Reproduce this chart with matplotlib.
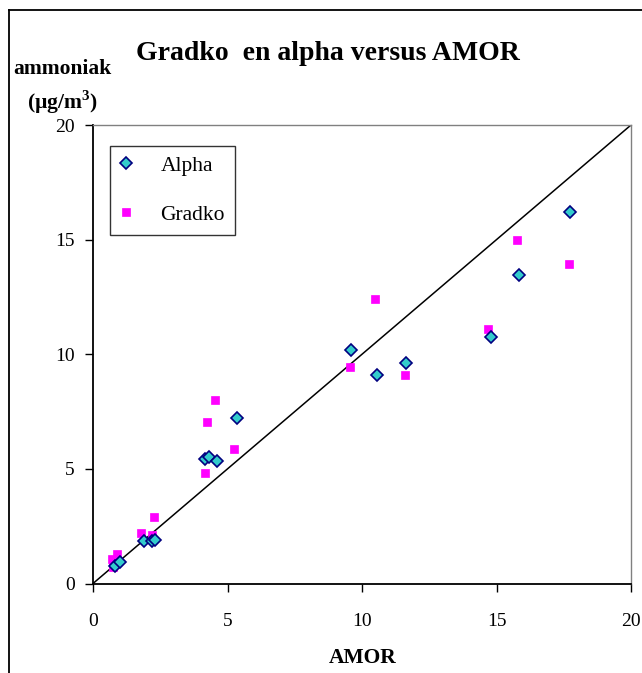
import matplotlib
matplotlib.use("Agg")
import matplotlib.pyplot as plt
from matplotlib.lines import Line2D

alpha_x = [0.8, 1.0, 1.9, 2.2, 2.3, 4.15, 4.3, 4.6, 5.35, 9.6, 10.55, 11.65, 14.8, 15.85, 17.75]
alpha_y = [0.75, 0.95, 1.85, 1.85, 1.9, 5.45, 5.5, 5.35, 7.2, 10.2, 9.1, 9.6, 10.75, 13.45, 16.2]

gradko_x = [0.75, 0.7, 0.9, 1.8, 2.2, 2.25, 4.15, 4.25, 4.55, 5.25, 9.55, 10.5, 11.6, 14.7, 15.75, 17.7]
gradko_y = [0.7, 1.05, 1.3, 2.2, 2.1, 2.9, 4.8, 7.05, 8.0, 5.85, 9.45, 12.4, 9.1, 11.1, 15.0, 13.95]

ticks = [0, 5, 10, 15, 20]

plt.rcParams['font.family'] = ['Liberation Serif', 'DejaVu Serif']
plt.rcParams['mathtext.fontset'] = 'custom'
plt.rcParams['mathtext.rm'] = 'Liberation Serif:bold'
plt.rcParams['mathtext.bf'] = 'Liberation Serif:bold'

W, H = 642, 673
fig = plt.figure(figsize=(W / 100, H / 100), dpi=100)
ax = fig.add_axes([93 / W, 1 - 583.5 / H, (631 - 93) / W, (583.5 - 125) / H])

ax.plot([0, 20], [0, 20], color='black', lw=1.1, zorder=1)
ax.plot(alpha_x, alpha_y, linestyle='none', marker='D', ms=6.5,
        markerfacecolor='#33CCCC', markeredgecolor='#000080', mew=1.2,
        label='Alpha', zorder=3)
ax.plot(gradko_x, gradko_y, linestyle='none', marker='s', ms=6,
        markerfacecolor='#FF00FF', markeredgecolor='#FF00FF', mew=0.5,
        label='Gradko', zorder=2)

ax.set_xlim(0, 20)
ax.set_ylim(0, 20)
ax.set_xticks(ticks)
ax.set_yticks(ticks)
ax.tick_params(axis='both', direction='out', length=6, width=1, labelsize=14, color='black')
ax.tick_params(axis='x', pad=15)
ax.tick_params(axis='y', pad=7)
for s in ['left', 'bottom']:
    ax.spines[s].set_color('black')
    ax.spines[s].set_linewidth(1.3)
for s in ['top', 'right']:
    ax.spines[s].set_color('#808080')
    ax.spines[s].set_linewidth(1.0)

leg = ax.legend(loc='upper left', bbox_to_anchor=((110 - 93) / 538, (583.5 - 146) / 458.5),
                frameon=True, fancybox=False, edgecolor='black', fontsize=15.5,
                borderpad=0.45, labelspacing=1.35, handlelength=0.6, handletextpad=1.3,
                borderaxespad=0)
leg.get_frame().set_linewidth(1.0)

fig.text(328 / W, 1 - 54 / H, 'Gradko  en alpha versus AMOR', ha='center', va='center',
         fontsize=20, fontweight='bold')
fig.text(62 / W, 1 - 69 / H, 'ammoniak', ha='center', va='center', fontsize=15.5, fontweight='bold')
fig.text(62 / W, 1 - 102 / H, r'(µg/m$^{\mathbf{3}}$)', ha='center', va='center', fontsize=15.5,
         fontweight='bold')
fig.text(363 / W, 1 - 658 / H, 'AMOR', ha='center', va='center', fontsize=15.5, fontweight='bold')

fig.add_artist(Line2D([8.5 / W, 8.5 / W], [0, 1 - 10 / H], transform=fig.transFigure, color='black', lw=1.3))
fig.add_artist(Line2D([8.5 / W, 1], [1 - 10 / H, 1 - 10 / H], transform=fig.transFigure, color='black', lw=1.3))

fig.savefig('out.png', dpi=100)
